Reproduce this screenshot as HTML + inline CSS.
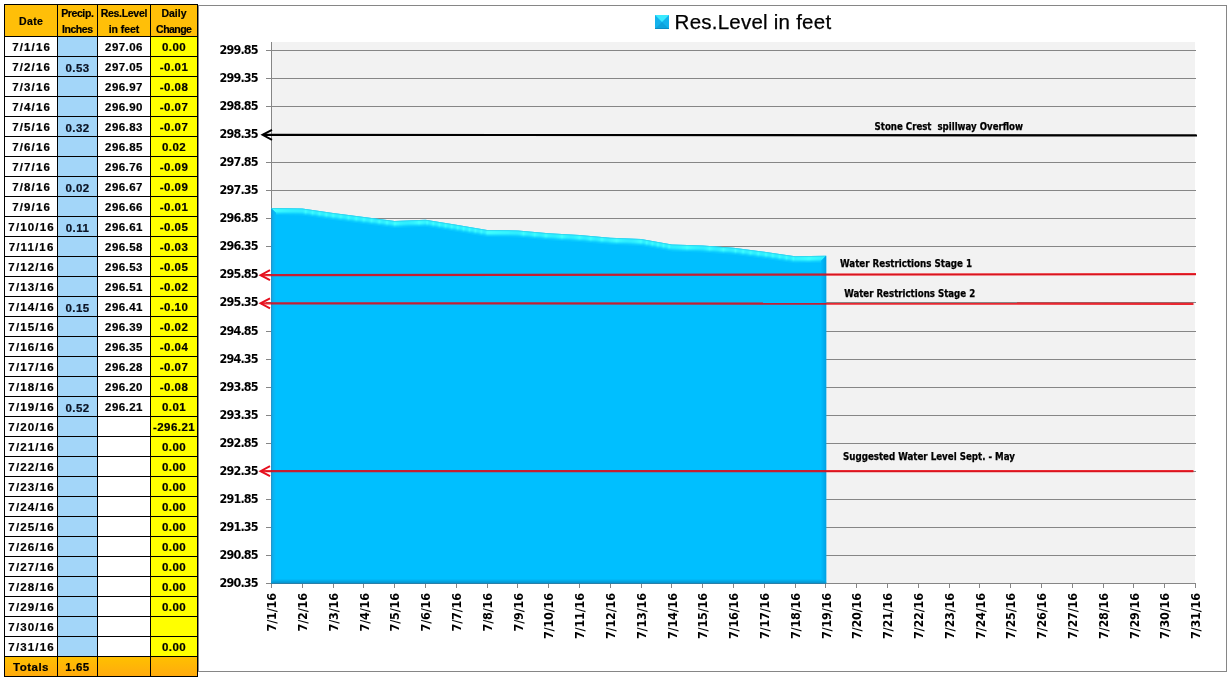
<!DOCTYPE html>
<html lang="en"><head><meta charset="utf-8"><title>Res.Level in feet</title>
<style>
html,body{margin:0;padding:0;background:#fff;}
body{width:1231px;height:681px;position:relative;overflow:hidden;font-family:"Liberation Sans",sans-serif;}
#tbl{position:absolute;left:4px;top:4px;display:grid;grid-template-columns:52px 39px 52px 46px;grid-template-rows:31px repeat(32,19px);gap:1px;padding:1px;background:#000;font-weight:bold;color:#000;-webkit-text-stroke:0.2px #000;}
#tbl div{display:flex;align-items:center;justify-content:center;white-space:nowrap;overflow:hidden;font-size:11.5px;letter-spacing:0.45px;text-indent:0;line-height:17px;padding-top:2px;box-sizing:border-box;}
#tbl .h{background:#ffbf08;font-size:10.5px;text-indent:0;line-height:16px;text-align:center;white-space:normal;letter-spacing:-0.2px;padding-top:1px;}
#tbl .d{background:#fff;letter-spacing:1.15px;text-indent:1.15px;}
#tbl p{margin:0;}
#tbl .p{background:#a3d6f9;color:#0a1428;align-items:flex-end;line-height:15px;padding-top:0;}
#tbl .r{background:#fff;}
#tbl .c{background:#ffff00;}
#tbl .t{background:linear-gradient(#ffc000,#ffab0e);}
#chart{position:absolute;left:0;top:0;}
.ax{font-family:'DejaVu Sans Condensed','DejaVu Sans','Liberation Sans',sans-serif;font-stretch:condensed;font-weight:bold;font-size:12.5px;letter-spacing:-0.85px;fill:#000;}
.an{font-family:'DejaVu Sans Condensed','DejaVu Sans','Liberation Sans',sans-serif;font-stretch:condensed;font-weight:bold;font-size:10px;fill:#000;white-space:pre;stroke:#000;stroke-width:0.25px;}
</style></head><body>
<div id="tbl">
<div class="h"><span style="letter-spacing:0.35px;margin-right:-0.35px">Date</span></div><div class="h"><p><span style="letter-spacing:-0.39px;margin-right:0.39px">Precip.</span><br><span style="letter-spacing:-0.45px;margin-right:0.45px">Inches</span></p></div><div class="h"><p><span style="letter-spacing:-0.29px;margin-right:0.29px">Res.Level</span><br><span style="letter-spacing:-0.04px;margin-right:0.04px">in feet</span></p></div><div class="h"><p><span style="letter-spacing:0.02px;margin-right:-0.02px">Daily</span><br><span style="letter-spacing:-0.53px;margin-right:0.53px">Change</span></p></div>
<div class="d">7/1/16</div><div class="p"></div><div class="r">297.06</div><div class="c">0.00</div>
<div class="d">7/2/16</div><div class="p">0.53</div><div class="r">297.05</div><div class="c">-0.01</div>
<div class="d">7/3/16</div><div class="p"></div><div class="r">296.97</div><div class="c">-0.08</div>
<div class="d">7/4/16</div><div class="p"></div><div class="r">296.90</div><div class="c">-0.07</div>
<div class="d">7/5/16</div><div class="p">0.32</div><div class="r">296.83</div><div class="c">-0.07</div>
<div class="d">7/6/16</div><div class="p"></div><div class="r">296.85</div><div class="c">0.02</div>
<div class="d">7/7/16</div><div class="p"></div><div class="r">296.76</div><div class="c">-0.09</div>
<div class="d">7/8/16</div><div class="p">0.02</div><div class="r">296.67</div><div class="c">-0.09</div>
<div class="d">7/9/16</div><div class="p"></div><div class="r">296.66</div><div class="c">-0.01</div>
<div class="d">7/10/16</div><div class="p">0.11</div><div class="r">296.61</div><div class="c">-0.05</div>
<div class="d">7/11/16</div><div class="p"></div><div class="r">296.58</div><div class="c">-0.03</div>
<div class="d">7/12/16</div><div class="p"></div><div class="r">296.53</div><div class="c">-0.05</div>
<div class="d">7/13/16</div><div class="p"></div><div class="r">296.51</div><div class="c">-0.02</div>
<div class="d">7/14/16</div><div class="p">0.15</div><div class="r">296.41</div><div class="c">-0.10</div>
<div class="d">7/15/16</div><div class="p"></div><div class="r">296.39</div><div class="c">-0.02</div>
<div class="d">7/16/16</div><div class="p"></div><div class="r">296.35</div><div class="c">-0.04</div>
<div class="d">7/17/16</div><div class="p"></div><div class="r">296.28</div><div class="c">-0.07</div>
<div class="d">7/18/16</div><div class="p"></div><div class="r">296.20</div><div class="c">-0.08</div>
<div class="d">7/19/16</div><div class="p">0.52</div><div class="r">296.21</div><div class="c">0.01</div>
<div class="d">7/20/16</div><div class="p"></div><div class="r"></div><div class="c">-296.21</div>
<div class="d">7/21/16</div><div class="p"></div><div class="r"></div><div class="c">0.00</div>
<div class="d">7/22/16</div><div class="p"></div><div class="r"></div><div class="c">0.00</div>
<div class="d">7/23/16</div><div class="p"></div><div class="r"></div><div class="c">0.00</div>
<div class="d">7/24/16</div><div class="p"></div><div class="r"></div><div class="c">0.00</div>
<div class="d">7/25/16</div><div class="p"></div><div class="r"></div><div class="c">0.00</div>
<div class="d">7/26/16</div><div class="p"></div><div class="r"></div><div class="c">0.00</div>
<div class="d">7/27/16</div><div class="p"></div><div class="r"></div><div class="c">0.00</div>
<div class="d">7/28/16</div><div class="p"></div><div class="r"></div><div class="c">0.00</div>
<div class="d">7/29/16</div><div class="p"></div><div class="r"></div><div class="c">0.00</div>
<div class="d">7/30/16</div><div class="p"></div><div class="r"></div><div class="c"></div>
<div class="d">7/31/16</div><div class="p"></div><div class="r"></div><div class="c">0.00</div>
<div class="t" style="letter-spacing:0.5px">Totals</div><div class="t" style="letter-spacing:0.5px">1.65</div><div class="t"></div><div class="t"></div>
</div>
<svg id="chart" width="1231" height="681" viewBox="0 0 1231 681" font-family="'Liberation Sans',sans-serif">
<defs><linearGradient id="tb" x1="0" y1="0" x2="0" y2="1"><stop offset="0" stop-color="#35f0ff"/><stop offset="1" stop-color="#00bfff"/></linearGradient></defs>
<rect x="198.5" y="5.5" width="1028" height="666" fill="#fff" stroke="#868686" stroke-width="1"/>
<rect x="271" y="42" width="924" height="542" fill="#f2f2f2"/>
<path d="M266 50.5H1196M266 78.5H1196M266 106.5H1196M266 134.5H1196M266 162.5H1196M266 190.5H1196M266 218.5H1196M266 246.5H1196M266 274.5H1196M266 302.5H1196M266 331.5H1196M266 359.5H1196M266 387.5H1196M266 415.5H1196M266 443.5H1196M266 471.5H1196M266 499.5H1196M266 527.5H1196M266 555.5H1196M266 583.5H1196" stroke="#868686" stroke-width="1" fill="none"/>
<path d="M271.5 42V584" stroke="#868686" stroke-width="1" fill="none"/>
<path d="M271.5 583V588M302.5 583V588M333.5 583V588M363.5 583V588M394.5 583V588M425.5 583V588M456.5 583V588M487.5 583V588M517.5 583V588M548.5 583V588M579.5 583V588M610.5 583V588M641.5 583V588M671.5 583V588M702.5 583V588M733.5 583V588M764.5 583V588M795.5 583V588M825.5 583V588M856.5 583V588M887.5 583V588M918.5 583V588M949.5 583V588M979.5 583V588M1010.5 583V588M1041.5 583V588M1072.5 583V588M1103.5 583V588M1133.5 583V588M1164.5 583V588M1195.5 583V588" stroke="#868686" stroke-width="1" fill="none"/>
<path d="M271 584V208.0 L302.3 208.6 L333.1 213.1 L363.9 217.0 L394.7 220.9 L425.5 219.8 L456.3 224.8 L487.1 229.9 L517.9 230.5 L548.7 233.3 L579.5 234.9 L610.3 237.8 L641.1 238.9 L671.9 244.5 L702.7 245.6 L733.5 247.8 L764.3 251.8 L795.1 256.3 L826.2 255.7 V584Z" fill="#00bfff"/>
<path d="M271.0 208.0 L302.3 208.6 L333.1 213.1 L363.9 217.0 L394.7 220.9 L425.5 219.8 L456.3 224.8 L487.1 229.9 L517.9 230.5 L548.7 233.3 L579.5 234.9 L610.3 237.8 L641.1 238.9 L671.9 244.5 L702.7 245.6 L733.5 247.8 L764.3 251.8 L795.1 256.3 L826.2 255.7 L825.2 256.7 L795.1 257.3 L764.3 252.8 L733.5 248.8 L702.7 246.6 L671.9 245.5 L641.1 239.9 L610.3 238.8 L579.5 235.9 L548.7 234.3 L517.9 231.5 L487.1 230.9 L456.3 225.8 L425.5 220.8 L394.7 221.9 L363.9 218.0 L333.1 214.1 L302.3 209.6 L272.0 209.0Z" fill="#34deee"/>
<path d="M272.0 209.0 L302.3 209.6 L333.1 214.1 L363.9 218.0 L394.7 221.9 L425.5 220.8 L456.3 225.8 L487.1 230.9 L517.9 231.5 L548.7 234.3 L579.5 235.9 L610.3 238.8 L641.1 239.9 L671.9 245.5 L702.7 246.6 L733.5 248.8 L764.3 252.8 L795.1 257.3 L825.2 256.7 L824.2 257.7 L795.1 258.3 L764.3 253.8 L733.5 249.8 L702.7 247.6 L671.9 246.5 L641.1 240.9 L610.3 239.8 L579.5 236.9 L548.7 235.3 L517.9 232.5 L487.1 231.9 L456.3 226.8 L425.5 221.8 L394.7 222.9 L363.9 219.0 L333.1 215.1 L302.3 210.6 L273.0 210.0Z" fill="#3efcff"/>
<path d="M273.0 210.0 L302.3 210.6 L333.1 215.1 L363.9 219.0 L394.7 222.9 L425.5 221.8 L456.3 226.8 L487.1 231.9 L517.9 232.5 L548.7 235.3 L579.5 236.9 L610.3 239.8 L641.1 240.9 L671.9 246.5 L702.7 247.6 L733.5 249.8 L764.3 253.8 L795.1 258.3 L824.2 257.7 L823.2 258.7 L795.1 259.3 L764.3 254.8 L733.5 250.8 L702.7 248.6 L671.9 247.5 L641.1 241.9 L610.3 240.8 L579.5 237.9 L548.7 236.3 L517.9 233.5 L487.1 232.9 L456.3 227.8 L425.5 222.8 L394.7 223.9 L363.9 220.0 L333.1 216.1 L302.3 211.6 L274.0 211.0Z" fill="#40ffff"/>
<path d="M274.0 211.0 L302.3 211.6 L333.1 216.1 L363.9 220.0 L394.7 223.9 L425.5 222.8 L456.3 227.8 L487.1 232.9 L517.9 233.5 L548.7 236.3 L579.5 237.9 L610.3 240.8 L641.1 241.9 L671.9 247.5 L702.7 248.6 L733.5 250.8 L764.3 254.8 L795.1 259.3 L823.2 258.7 L822.2 259.7 L795.1 260.3 L764.3 255.8 L733.5 251.8 L702.7 249.6 L671.9 248.5 L641.1 242.9 L610.3 241.8 L579.5 238.9 L548.7 237.3 L517.9 234.5 L487.1 233.9 L456.3 228.8 L425.5 223.8 L394.7 224.9 L363.9 221.0 L333.1 217.1 L302.3 212.6 L275.0 212.0Z" fill="#3cfaff"/>
<path d="M275.0 212.0 L302.3 212.6 L333.1 217.1 L363.9 221.0 L394.7 224.9 L425.5 223.8 L456.3 228.8 L487.1 233.9 L517.9 234.5 L548.7 237.3 L579.5 238.9 L610.3 241.8 L641.1 242.9 L671.9 248.5 L702.7 249.6 L733.5 251.8 L764.3 255.8 L795.1 260.3 L822.2 259.7 L821.2 260.7 L795.1 261.3 L764.3 256.8 L733.5 252.8 L702.7 250.6 L671.9 249.5 L641.1 243.9 L610.3 242.8 L579.5 239.9 L548.7 238.3 L517.9 235.5 L487.1 234.9 L456.3 229.8 L425.5 224.8 L394.7 225.9 L363.9 222.0 L333.1 218.1 L302.3 213.6 L276.0 213.0Z" fill="#28eaff"/>
<path d="M276.0 213.0 L302.3 213.6 L333.1 218.1 L363.9 222.0 L394.7 225.9 L425.5 224.8 L456.3 229.8 L487.1 234.9 L517.9 235.5 L548.7 238.3 L579.5 239.9 L610.3 242.8 L641.1 243.9 L671.9 249.5 L702.7 250.6 L733.5 252.8 L764.3 256.8 L795.1 261.3 L821.2 260.7 L821.2 261.7 L795.1 262.3 L764.3 257.8 L733.5 253.8 L702.7 251.6 L671.9 250.5 L641.1 244.9 L610.3 243.8 L579.5 240.9 L548.7 239.3 L517.9 236.5 L487.1 235.9 L456.3 230.8 L425.5 225.8 L394.7 226.9 L363.9 223.0 L333.1 219.1 L302.3 214.6 L276.0 214.0Z" fill="#16d6ff"/>
<path d="M276.0 214.0 L302.3 214.6 L333.1 219.1 L363.9 223.0 L394.7 226.9 L425.5 225.8 L456.3 230.8 L487.1 235.9 L517.9 236.5 L548.7 239.3 L579.5 240.9 L610.3 243.8 L641.1 244.9 L671.9 250.5 L702.7 251.6 L733.5 253.8 L764.3 257.8 L795.1 262.3 L821.2 261.7 L821.2 262.7 L795.1 263.3 L764.3 258.8 L733.5 254.8 L702.7 252.6 L671.9 251.5 L641.1 245.9 L610.3 244.8 L579.5 241.9 L548.7 240.3 L517.9 237.5 L487.1 236.9 L456.3 231.8 L425.5 226.8 L394.7 227.9 L363.9 224.0 L333.1 220.1 L302.3 215.6 L276.0 215.0Z" fill="#08c8ff"/>
<path d="M271 208.0 L272 209.0 V584 H271Z" fill="#2296cd"/>
<path d="M272 209.0 L273 210.0 V584 H272Z" fill="#0eace8"/>
<path d="M273 210.0 L274 211.0 V584 H273Z" fill="#0cb2f0"/>
<path d="M274 211.0 L275 212.0 V584 H274Z" fill="#08b8f6"/>
<path d="M275 212.0 L276 213.0 V584 H275Z" fill="#04bcfb"/>
<path d="M826.2 255.7 L825.2 256.7 V584 H826.2Z" fill="#009ee0"/>
<path d="M825.2 256.7 L824.2 257.7 V584 H825.2Z" fill="#00a5e7"/>
<path d="M824.2 257.7 L823.2 258.7 V584 H824.2Z" fill="#00aced"/>
<path d="M823.2 258.7 L822.2 259.7 V584 H823.2Z" fill="#00b3f4"/>
<path d="M822.2 259.7 L821.2 260.7 V584 H822.2Z" fill="#00bafa"/>
<path d="M271 583H826.2V582H271Z" fill="#0699d4"/>
<path d="M272 582H825.2V581H272Z" fill="#04a3df"/>
<path d="M273 581H824.2V580H273Z" fill="#03aeeb"/>
<path d="M274 580H823.2V579H274Z" fill="#01b8f7"/>
<path d="M271 583.5H826.2" stroke="#2a7fa8" stroke-width="1"/>
<path d="M826.2 583.5H1196" stroke="#868686" stroke-width="1" fill="none"/>
<text x="257.8" y="54.1" text-anchor="end" class="ax">299.85</text>
<text x="257.8" y="82.1" text-anchor="end" class="ax">299.35</text>
<text x="257.8" y="110.1" text-anchor="end" class="ax">298.85</text>
<text x="257.8" y="138.1" text-anchor="end" class="ax">298.35</text>
<text x="257.8" y="166.1" text-anchor="end" class="ax">297.85</text>
<text x="257.8" y="194.1" text-anchor="end" class="ax">297.35</text>
<text x="257.8" y="222.1" text-anchor="end" class="ax">296.85</text>
<text x="257.8" y="250.1" text-anchor="end" class="ax">296.35</text>
<text x="257.8" y="278.1" text-anchor="end" class="ax">295.85</text>
<text x="257.8" y="306.1" text-anchor="end" class="ax">295.35</text>
<text x="257.8" y="335.1" text-anchor="end" class="ax">294.85</text>
<text x="257.8" y="363.1" text-anchor="end" class="ax">294.35</text>
<text x="257.8" y="391.1" text-anchor="end" class="ax">293.85</text>
<text x="257.8" y="419.1" text-anchor="end" class="ax">293.35</text>
<text x="257.8" y="447.1" text-anchor="end" class="ax">292.85</text>
<text x="257.8" y="475.1" text-anchor="end" class="ax">292.35</text>
<text x="257.8" y="503.1" text-anchor="end" class="ax">291.85</text>
<text x="257.8" y="531.1" text-anchor="end" class="ax">291.35</text>
<text x="257.8" y="559.1" text-anchor="end" class="ax">290.85</text>
<text x="257.8" y="587.1" text-anchor="end" class="ax">290.35</text>
<text transform="translate(276.1 593.2) rotate(-90)" text-anchor="end" class="ax" style="letter-spacing:-0.22px">7/1/16</text>
<text transform="translate(306.9 593.2) rotate(-90)" text-anchor="end" class="ax" style="letter-spacing:-0.22px">7/2/16</text>
<text transform="translate(337.7 593.2) rotate(-90)" text-anchor="end" class="ax" style="letter-spacing:-0.22px">7/3/16</text>
<text transform="translate(368.5 593.2) rotate(-90)" text-anchor="end" class="ax" style="letter-spacing:-0.22px">7/4/16</text>
<text transform="translate(399.3 593.2) rotate(-90)" text-anchor="end" class="ax" style="letter-spacing:-0.22px">7/5/16</text>
<text transform="translate(430.1 593.2) rotate(-90)" text-anchor="end" class="ax" style="letter-spacing:-0.22px">7/6/16</text>
<text transform="translate(460.9 593.2) rotate(-90)" text-anchor="end" class="ax" style="letter-spacing:-0.22px">7/7/16</text>
<text transform="translate(491.7 593.2) rotate(-90)" text-anchor="end" class="ax" style="letter-spacing:-0.22px">7/8/16</text>
<text transform="translate(522.5 593.2) rotate(-90)" text-anchor="end" class="ax" style="letter-spacing:-0.22px">7/9/16</text>
<text transform="translate(553.3 593.2) rotate(-90)" text-anchor="end" class="ax" style="letter-spacing:-0.22px">7/10/16</text>
<text transform="translate(584.1 593.2) rotate(-90)" text-anchor="end" class="ax" style="letter-spacing:-0.22px">7/11/16</text>
<text transform="translate(614.9 593.2) rotate(-90)" text-anchor="end" class="ax" style="letter-spacing:-0.22px">7/12/16</text>
<text transform="translate(645.7 593.2) rotate(-90)" text-anchor="end" class="ax" style="letter-spacing:-0.22px">7/13/16</text>
<text transform="translate(676.5 593.2) rotate(-90)" text-anchor="end" class="ax" style="letter-spacing:-0.22px">7/14/16</text>
<text transform="translate(707.3 593.2) rotate(-90)" text-anchor="end" class="ax" style="letter-spacing:-0.22px">7/15/16</text>
<text transform="translate(738.1 593.2) rotate(-90)" text-anchor="end" class="ax" style="letter-spacing:-0.22px">7/16/16</text>
<text transform="translate(768.9 593.2) rotate(-90)" text-anchor="end" class="ax" style="letter-spacing:-0.22px">7/17/16</text>
<text transform="translate(799.7 593.2) rotate(-90)" text-anchor="end" class="ax" style="letter-spacing:-0.22px">7/18/16</text>
<text transform="translate(830.5 593.2) rotate(-90)" text-anchor="end" class="ax" style="letter-spacing:-0.22px">7/19/16</text>
<text transform="translate(861.3 593.2) rotate(-90)" text-anchor="end" class="ax" style="letter-spacing:-0.22px">7/20/16</text>
<text transform="translate(892.1 593.2) rotate(-90)" text-anchor="end" class="ax" style="letter-spacing:-0.22px">7/21/16</text>
<text transform="translate(922.9 593.2) rotate(-90)" text-anchor="end" class="ax" style="letter-spacing:-0.22px">7/22/16</text>
<text transform="translate(953.7 593.2) rotate(-90)" text-anchor="end" class="ax" style="letter-spacing:-0.22px">7/23/16</text>
<text transform="translate(984.5 593.2) rotate(-90)" text-anchor="end" class="ax" style="letter-spacing:-0.22px">7/24/16</text>
<text transform="translate(1015.3 593.2) rotate(-90)" text-anchor="end" class="ax" style="letter-spacing:-0.22px">7/25/16</text>
<text transform="translate(1046.1 593.2) rotate(-90)" text-anchor="end" class="ax" style="letter-spacing:-0.22px">7/26/16</text>
<text transform="translate(1076.9 593.2) rotate(-90)" text-anchor="end" class="ax" style="letter-spacing:-0.22px">7/27/16</text>
<text transform="translate(1107.7 593.2) rotate(-90)" text-anchor="end" class="ax" style="letter-spacing:-0.22px">7/28/16</text>
<text transform="translate(1138.5 593.2) rotate(-90)" text-anchor="end" class="ax" style="letter-spacing:-0.22px">7/29/16</text>
<text transform="translate(1169.3 593.2) rotate(-90)" text-anchor="end" class="ax" style="letter-spacing:-0.22px">7/30/16</text>
<text transform="translate(1200.1 593.2) rotate(-90)" text-anchor="end" class="ax" style="letter-spacing:-0.22px">7/31/16</text>
<path d="M263.0 134.8L1197 135.5" stroke="#000" stroke-width="2.2" fill="none"/><path d="M272.0 129.8L262.5 134.8L272.0 139.8" stroke="#000" stroke-width="1.9" fill="none" stroke-linejoin="miter"/>
<path d="M261.0 275.2L1196 274.1" stroke="rgba(232,0,12,0.84)" stroke-width="2.2" fill="none"/><path d="M270.0 270.2L260.5 275.2L270.0 280.2" stroke="#e60f1e" stroke-width="1.9" fill="none" stroke-linejoin="miter"/>
<path d="M261.0 303.3L1193.5 303.8" stroke="rgba(232,0,12,0.84)" stroke-width="2.2" fill="none"/><path d="M270.0 298.3L260.5 303.3L270.0 308.3" stroke="#e60f1e" stroke-width="1.9" fill="none" stroke-linejoin="miter"/>
<path d="M261.0 471.2L1193.5 471.2" stroke="rgba(232,0,12,0.84)" stroke-width="2.2" fill="none"/><path d="M270.0 466.2L260.5 471.2L270.0 476.2" stroke="#e60f1e" stroke-width="1.9" fill="none" stroke-linejoin="miter"/>
<text x="874.6" y="129.7" class="an" textLength="148.4" lengthAdjust="spacingAndGlyphs" xml:space="preserve">Stone Crest  spillway Overflow</text>
<text x="840" y="266.7" class="an" textLength="132" lengthAdjust="spacingAndGlyphs" xml:space="preserve">Water Restrictions Stage 1</text>
<text x="844.2" y="296.5" class="an" textLength="131" lengthAdjust="spacingAndGlyphs" xml:space="preserve">Water Restrictions Stage 2</text>
<text x="843" y="459.5" class="an" textLength="172" lengthAdjust="spacingAndGlyphs" xml:space="preserve">Suggested Water Level Sept. - May</text>
<rect x="655" y="15" width="14" height="14" fill="#14b2ec"/>
<path d="M655 15H669L662 22Z" fill="#3aeaff"/>
<path d="M655 29H669L662 22Z" fill="#0ea2dc"/>
<path d="M655 28.5H669" stroke="#0b8cc4" stroke-width="1"/>
<text x="674.6" y="28.6" font-size="20.5" fill="#000" stroke="#000" stroke-width="0.25" textLength="156.5" lengthAdjust="spacing">Res.Level in feet</text>
</svg>
</body></html>
